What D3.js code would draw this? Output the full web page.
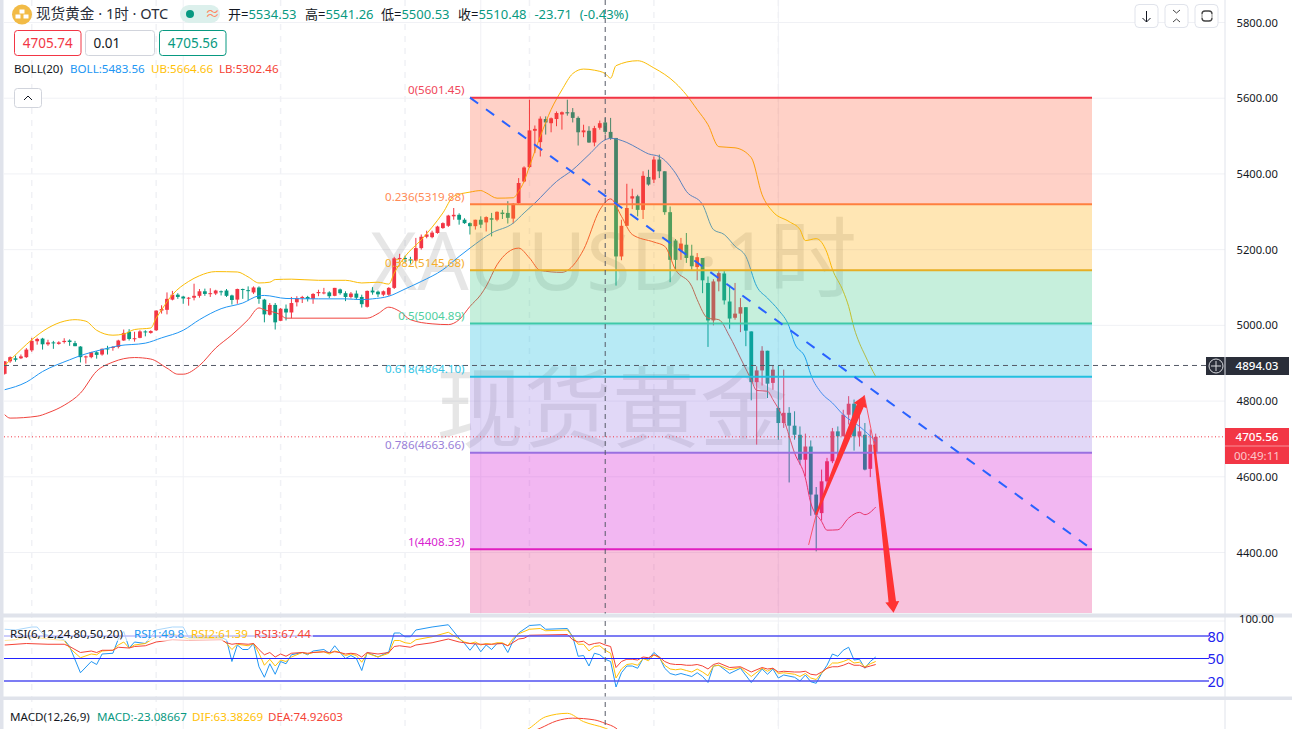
<!DOCTYPE html>
<html><head><meta charset="utf-8">
<script src="https://cdn.jsdelivr.net/npm/d3@7/dist/d3.min.js"></script>
<style>
html,body{margin:0;padding:0;background:#fff;overflow:hidden}
svg{display:block}
text{font-family:"Noto Sans","Noto Sans CJK SC",sans-serif}
</style></head><body><div id="c"></div>
<script>
const open=[4872,4905,4913,4913,4916,4934,4958,4965,4950,4955,
4951,4956,4960,4953,4944,4917,4916,4929,4923,4939,
4942,4943,4960,4983,4964,4967,4984,4980,4987,5039,
5041,5068,5081,5076,5071,5073,5078,5090,5083,5084,
5090,5092,5079,5068,5096,5093,5087,5100,5068,5028,
5054,5012,5044,5034,5061,5072,5075,5070,5085,5085,
5087,5078,5095,5085,5075,5084,5075,5049,5092,5089,
5081,5081,5099,5175,5178,5174,5171,5204,5234,5233,
5244,5257,5263,5288,5292,5279,5270,5262,5279,5272,
5283,5279,5298,5297,5282,5323,5380,5418,5514,5484,
5545,5534,5545,5557,5563,5563,5548,5510,5514,5483,
5522,5536,5511,5495,5182,5263,5335,5341,5305,5392,
5385,5438,5407,5299,5224,5196,5213,5184,5154,5178,
5112,5013,5116,5137,5063,5020,5031,5048,4984,4850,
4881,4933,4848,4782,4742,4769,4735,4711,4645,4680,
4553,4504,4588,4641,4720,4707,4764,4793,4707,4711,4621,4665];
const high=[4905,4918,4920,4923,4940,4967,4967,4967,4962,4959,
4958,4966,4963,4959,4945,4920,4930,4932,4939,4946,
4945,4962,4989,4990,4983,4987,4987,4987,5040,5053,
5087,5091,5085,5078,5075,5110,5096,5097,5098,5094,
5092,5096,5081,5097,5097,5103,5103,5103,5070,5059,
5059,5046,5055,5075,5077,5078,5078,5085,5094,5099,
5090,5099,5097,5090,5088,5092,5081,5092,5101,5092,
5092,5101,5181,5189,5184,5181,5231,5240,5250,5250,
5263,5272,5292,5310,5296,5283,5272,5279,5288,5288,
5297,5301,5305,5328,5323,5389,5420,5596,5528,5552,
5552,5549,5565,5565,5596,5574,5552,5530,5526,5527,
5541,5548,5548,5495,5279,5374,5361,5345,5407,5411,
5446,5451,5407,5314,5228,5231,5244,5213,5191,5178,
5129,5122,5143,5143,5107,5112,5072,5048,4984,4892,
4945,4933,4893,4893,4883,4784,4773,4733,4714,4696,
4573,4619,4650,4729,4733,4777,4813,4804,4804,4742,4725,4714];
const low=[4870,4901,4904,4911,4914,4930,4949,4936,4946,4938,
4949,4952,4946,4945,4902,4899,4913,4912,4920,4923,
4933,4939,4959,4960,4957,4966,4971,4978,4985,5031,
5029,5066,5070,5057,5052,5066,5073,5078,5075,5080,
5079,5075,5055,5057,5070,5066,5083,5057,5008,5026,
4989,5011,5013,5019,5050,5059,5063,5057,5077,5082,
5072,5077,5081,5064,5071,5068,5047,5047,5081,5075,
5077,5078,5096,5166,5165,5163,5169,5200,5230,5230,
5242,5255,5260,5279,5266,5268,5240,5253,5257,5248,
5235,5275,5281,5269,5269,5321,5378,5416,5455,5446,
5504,5510,5526,5517,5554,5536,5475,5497,5482,5473,
5517,5504,5490,5105,5172,5263,5307,5288,5281,5369,
5376,5389,5292,5114,5147,5173,5165,5147,5119,5085,
4943,5000,5090,5055,4991,5015,4982,4945,4802,4685,
4841,4808,4830,4698,4729,4585,4698,4632,4601,4497,
4403,4485,4575,4636,4654,4707,4738,4669,4680,4617,4599,4645];
const close=[4905,4916,4909,4918,4936,4959,4964,4950,4955,4953,
4955,4959,4956,4945,4916,4918,4929,4922,4938,4938,
4943,4960,4980,4964,4966,4984,4982,4985,5039,5043,
5070,5081,5075,5071,5073,5078,5090,5083,5085,5092,
5089,5078,5067,5096,5094,5092,5100,5070,5029,5054,
5008,5044,5034,5059,5072,5075,5070,5083,5088,5087,
5077,5099,5085,5075,5084,5073,5056,5091,5087,5082,
5090,5099,5177,5178,5175,5172,5204,5234,5240,5245,
5261,5270,5290,5292,5279,5270,5262,5279,5266,5286,
5279,5300,5294,5284,5321,5376,5417,5515,5519,5546,
5536,5547,5561,5563,5560,5548,5510,5515,5483,5521,
5534,5511,5495,5182,5263,5310,5341,5305,5395,5372,
5438,5407,5299,5173,5173,5216,5178,5156,5180,5119,
5013,5116,5138,5066,5018,5031,5048,4986,4850,4881,
4933,4846,4883,4742,4769,4735,4711,4645,4680,4553,
4500,4588,4641,4720,4707,4764,4793,4707,4720,4619,4685,4705.56];

const bollUpper=[[0,4894],[3,4936],[5,4962],[8,4993],[11,5011],[13,5015],[15,5011],[17,4987],[20,4974],[22,4977],[24,4989],[27,4993],[28,5019],[29,5041],[31,5081],[34,5116],[36,5131],[39,5142],[43,5141],[45,5128],[47,5112],[49,5114],[50,5121],[53,5122],[58,5119],[63,5119],[66,5112],[69,5114],[71,5109],[72,5138],[74,5182],[77,5226],[81,5297],[83,5341],[86,5352],[88,5356],[89,5350],[91,5336],[94,5337],[95,5354],[96,5380],[97,5420],[99,5499],[101,5570],[103,5622],[105,5665],[107,5677],[109,5674],[111,5665],[112,5653],[113,5686],[117,5699],[120,5680],[124,5640],[126,5609],[128,5570],[130,5530],[132,5472],[135,5469],[138,5443],[140,5345],[142,5300],[145,5274],[147,5253],[148,5224],[150,5229],[152,5192],[153,5148],[155,5090],[156,5050],[157,4993],[158,4953],[159,4922],[160,4892],[161,4865]];
const bollMid=[[0,4830],[4,4850],[7,4878],[12,4909],[14,4920],[18,4936],[21,4946],[26,4953],[29,4967],[33,4987],[36,5015],[40,5044],[44,5059],[47,5078],[48,5079],[52,5071],[58,5070],[63,5070],[66,5068],[68,5070],[71,5077],[74,5096],[77,5116],[81,5147],[84,5182],[86,5204],[90,5244],[94,5270],[96,5297],[98,5323],[102,5380],[105,5411],[108,5451],[111,5490],[112,5494],[115,5483],[117,5468],[119,5453],[121,5446],[124,5402],[126,5354],[129,5319],[131,5253],[133,5240],[135,5209],[137,5182],[139,5103],[141,5072],[143,5041],[145,4997],[146,4953],[148,4914],[149,4870],[151,4821],[153,4795],[155,4764],[158,4733],[161,4694]];
const bollLower=[[0,4764],[1,4755],[6,4760],[8,4769],[11,4789],[14,4821],[17,4879],[20,4903],[24,4915],[27,4911],[30,4887],[32,4871],[33,4871],[36,4894],[39,4940],[42,4975],[45,5015],[47,5046],[48,5041],[51,5028],[52,5019],[67,5019],[69,5031],[71,5048],[73,5037],[75,5015],[79,5004],[82,5002],[84,5015],[86,5050],[88,5081],[89,5103],[91,5160],[95,5204],[97,5178],[99,5145],[103,5140],[104,5145],[107,5200],[110,5305],[112,5334],[114,5288],[116,5240],[120,5220],[122,5209],[124,5147],[127,5103],[128,5068],[130,5019],[132,5015],[134,4971],[136,4914],[138,4856],[139,4828],[141,4826],[142,4804],[144,4751],[146,4663],[148,4597],[149,4531],[151,4482],[152,4459],[154,4460],[156,4491],[158,4506],[159,4500],[161,4520]];

const rsi1=[[0,89],[2,88],[5,92],[6,92],[7,83],[11,75],[12,66],[14,31],[16,46],[17,42],[18,56],[20,57],[21,76],[22,86],[23,64],[24,72],[26,70],[28,88],[31,92],[33,92],[34,78],[40,78],[41,75],[42,46],[43,68],[44,62],[45,62],[46,70],[47,39],[48,25],[49,43],[50,29],[51,46],[52,43],[53,55],[55,58],[56,55],[57,60],[59,62],[60,57],[61,67],[62,58],[63,50],[64,54],[65,50],[66,34],[67,58],[69,52],[71,59],[72,84],[73,84],[74,79],[75,79],[76,88],[79,92],[82,95],[84,77],[85,70],[86,61],[87,70],[88,59],[89,68],[90,62],[91,70],[92,70],[93,58],[94,74],[95,84],[97,94],[99,95],[100,89],[104,90],[105,79],[106,53],[107,54],[108,40],[109,57],[110,55],[111,49],[112,46],[113,12],[114,31],[115,40],[116,40],[117,37],[118,50],[119,49],[120,58],[121,52],[122,37],[123,30],[124,28],[125,30],[126,28],[127,26],[128,31],[129,26],[130,18],[131,40],[132,41],[134,30],[136,37],[138,18],[140,36],[141,29],[142,36],[143,24],[144,28],[146,25],[147,20],[148,28],[149,19],[150,17],[151,30],[152,41],[153,56],[154,53],[155,61],[156,65],[157,48],[158,49],[159,37],[160,46],[161,52]];
const rsi2=[[0,74],[2,75],[4,79],[6,78],[8,76],[11,74],[12,64],[14,51],[16,56],[17,55],[18,60],[20,61],[21,68],[22,72],[23,64],[24,68],[26,70],[28,79],[31,83],[34,76],[40,77],[41,70],[42,62],[43,69],[45,67],[46,70],[47,57],[48,41],[49,49],[50,40],[51,48],[52,46],[53,52],[55,58],[56,56],[57,58],[59,59],[60,56],[61,60],[62,58],[63,54],[64,56],[65,54],[66,45],[67,57],[69,52],[71,57],[72,74],[73,74],[74,71],[75,70],[76,75],[79,79],[82,85],[84,76],[85,72],[86,70],[87,72],[88,68],[89,70],[90,69],[91,71],[92,71],[93,67],[94,77],[95,83],[97,89],[99,90],[100,87],[104,88],[105,79],[106,69],[107,69],[108,60],[109,66],[110,67],[111,61],[112,57],[113,24],[114,36],[115,42],[116,43],[117,41],[118,50],[119,47],[120,55],[121,51],[122,41],[123,36],[124,35],[125,36],[126,34],[127,32],[128,36],[129,32],[130,27],[131,40],[132,41],[134,35],[136,38],[138,26],[140,37],[141,33],[142,37],[143,30],[144,31],[146,29],[147,26],[148,30],[149,24],[150,22],[151,31],[152,37],[153,44],[154,44],[155,46],[156,49],[157,44],[158,45],[159,39],[160,43],[161,46]];
const rsi3=[[0,68],[4,70],[8,69],[11,69],[12,66],[14,58],[16,60],[17,58],[18,61],[20,61],[21,65],[23,64],[24,66],[26,67],[28,72],[31,75],[34,74],[40,75],[41,71],[42,69],[43,70],[45,69],[46,70],[47,62],[48,55],[49,58],[50,52],[51,56],[52,53],[53,57],[55,58],[56,57],[57,58],[59,59],[60,58],[61,59],[62,58],[63,56],[64,57],[65,56],[66,52],[67,58],[69,56],[71,58],[72,66],[73,67],[74,66],[75,65],[76,68],[79,71],[82,76],[84,72],[86,70],[88,69],[90,69],[92,70],[93,67],[95,76],[96,77],[97,81],[104,82],[105,75],[106,72],[107,73],[108,68],[109,70],[110,71],[111,68],[112,66],[113,38],[114,46],[115,49],[116,49],[117,48],[118,52],[119,51],[120,55],[121,52],[122,46],[123,43],[124,42],[125,42],[126,41],[127,41],[128,42],[129,40],[130,36],[131,42],[132,44],[134,38],[136,39],[138,32],[140,38],[141,36],[142,37],[143,32],[144,33],[146,32],[147,32],[148,33],[149,29],[150,28],[151,32],[152,37],[153,39],[154,39],[155,41],[156,44],[157,41],[158,41],[159,38],[160,40],[161,42]];
const macdDif=[[95,40],[97,59],[100,92],[104,102],[107,78],[111,59],[113,45]];
const macdDea=[[96,40],[99,59],[102,80],[105,88],[109,83],[111,73],[113,59],[114,45]];

const priceTicks=[5800,5600,5400,5200,5000,4800,4600,4400];
const rsiLevels=[80,50,20];
const fibRatios=["0","0.236","0.382","0.5","0.618","0.786","1"];
const fibPrices=[5601.45,5319.88,5145.68,5004.89,4864.10,4663.66,4408.33];
const fibLine=["#f23645","#ff7f3f","#e6ae25","#3fc9a8","#22c0e0","#9a70e0","#e020c0"];
const fibText=["#f0475a","#ff8a55","#f5ad2a","#4fcfa0","#35c5e5","#9a7fd8","#d81fd0"];
const fibFill=["rgba(255,70,30,.25)","rgba(255,172,8,.3)","rgba(65,202,138,.3)","rgba(15,185,222,.3)","rgba(155,125,228,.3)","rgba(212,18,212,.3)","rgba(232,52,138,.3)"];
const dashedGridIdx=[5,28,51,74,97,120,143];
const solidGridIdx=[33,88,143];
const upArrow=[[150.0,4500],[158.9,4815]];
const downArrow=[[160.7,4685],[164.3,4241]];
const thinDraw=[[148.6,4420],[150.0,4500],[158.9,4815],[160.7,4685]];
const crossPrice=4894.03, crossIdx=111, lastPrice=4705.56;

const W=1292,H=729,axisX=1225;
const svg=d3.select("#c").append("svg").attr("width",W).attr("height",H);
const x=d3.scaleLinear().domain([0,161]).range([4.7,875.7]);
const y=d3.scaleLinear().domain([4400,5800]).range([552.5,22.5]);
const yR=d3.scaleLinear().domain([0,100]).range([696,621]);
const yM=d3.scaleLinear().domain([63.38,74.93]).range([726.7,722.7]);
const UP="#f23645",DN="#089981";

const defs=svg.append("defs");
const clip=(id,a,b,w)=>defs.append("clipPath").attr("id",id).append("rect").attr("x",4).attr("y",a).attr("width",w||axisX-4).attr("height",b-a);
clip("cm",0,613);clip("cr",618,696);clip("cc",700,729);

// grid
const grid=svg.append("g").attr("stroke","#f0f1f5").attr("stroke-width",1);
priceTicks.forEach(p=>grid.append("line").attr("x1",4).attr("x2",axisX).attr("y1",y(p)).attr("y2",y(p)));
grid.append("line").attr("x1",4).attr("x2",axisX).attr("y1",yR(100)).attr("y2",yR(100));
dashedGridIdx.forEach(i=>grid.append("line").attr("x1",x(i)).attr("x2",x(i)).attr("y1",0).attr("y2",H).attr("stroke-dasharray","6 6").attr("stroke-width",1.5));
solidGridIdx.forEach(i=>grid.append("line").attr("x1",x(i)).attr("x2",x(i)).attr("y1",0).attr("y2",H));

// watermark
const wm=svg.append("text").attr("y",290).attr("fill","rgba(90,90,90,.15)");
wm.append("tspan").attr("x",370).attr("font-size",80.5).text("XAUUSD");
wm.append("tspan").attr("x",697).attr("font-size",80.5).text("·");
wm.append("tspan").attr("x",723).attr("font-size",80.5).text("1");
wm.append("tspan").attr("x",769).attr("font-size",88).text("时");
svg.append("text").attr("x",612).attr("y",440).attr("text-anchor","middle").attr("font-size",88).attr("fill","rgba(90,90,90,.15)").text("现货黄金");

// candles
const main=svg.append("g").attr("clip-path","url(#cm)");
const candles=d3.range(open.length).map(i=>({i,o:open[i],h:high[i],l:low[i],c:close[i]}));
const cg=main.append("g");
cg.selectAll("line").data(candles).join("line")
 .attr("x1",d=>x(d.i)).attr("x2",d=>x(d.i)).attr("y1",d=>y(d.h)).attr("y2",d=>y(d.l))
 .attr("stroke",d=>d.c>=d.o?UP:DN).attr("stroke-width",1);
cg.selectAll("rect").data(candles).join("rect")
 .attr("x",d=>x(d.i)-1.9).attr("width",3.8)
 .attr("y",d=>y(Math.max(d.o,d.c))).attr("height",d=>Math.max(1,Math.abs(y(d.o)-y(d.c))))
 .attr("fill",d=>d.c>=d.o?UP:DN);

// bollinger
const lm=d3.line().x(d=>x(d[0])).y(d=>y(d[1])).curve(d3.curveMonotoneX);
[[bollUpper,"#fbbc05"],[bollMid,"#2196f3"],[bollLower,"#f0443e"]].forEach(([s,c])=>
 main.append("path").attr("d",lm(s)).attr("fill","none").attr("stroke",c).attr("stroke-width",1));

// fibonacci
const fx0=470,fx1=1092,fBottom=613;
fibPrices.forEach((p,k)=>{
 const top=y(p),bot=k<fibPrices.length-1?y(fibPrices[k+1]):fBottom;
 main.append("rect").attr("x",fx0).attr("width",fx1-fx0).attr("y",top).attr("height",bot-top).attr("fill",fibFill[k]);
});
fibPrices.forEach((p,k)=>{
 main.append("line").attr("x1",fx0).attr("x2",fx1).attr("y1",y(p)).attr("y2",y(p)).attr("stroke",fibLine[k]).attr("stroke-width",2);
 svg.append("text").attr("x",464.5).attr("y",y(p)-3.5).attr("text-anchor","end").attr("font-size",11.6).attr("fill",fibText[k]).text(`${fibRatios[k]}(${p.toFixed(2)})`);
});
svg.append("line").attr("x1",fx0).attr("y1",y(fibPrices[0])).attr("x2",fx1).attr("y2",y(fibPrices[6]))
 .attr("stroke","#2962ff").attr("stroke-width",2).attr("stroke-dasharray","10 9.8");

// hand drawn arrows
function arrow(a,b,w0,w1,hw,hl){
 const p0=[x(a[0]),y(a[1])],p1=[x(b[0]),y(b[1])];
 const dx=p1[0]-p0[0],dy=p1[1]-p0[1],L=Math.hypot(dx,dy),ux=dx/L,uy=dy/L,nx=-uy,ny=ux;
 const bx=p1[0]-ux*hl,by=p1[1]-uy*hl;
 return [[p0[0]+nx*w0/2,p0[1]+ny*w0/2],[bx+nx*w1/2,by+ny*w1/2],[bx+nx*hw/2,by+ny*hw/2],p1,
  [bx-nx*hw/2,by-ny*hw/2],[bx-nx*w1/2,by-ny*w1/2],[p0[0]-nx*w0/2,p0[1]-ny*w0/2]].map(q=>q.join(",")).join(" ");
}
svg.append("path").attr("d",d3.line().x(d=>x(d[0])).y(d=>y(d[1]))(thinDraw)).attr("fill","none").attr("stroke","#f8566a").attr("stroke-width",1);
svg.append("polygon").attr("points",arrow(upArrow[0],upArrow[1],2,7.5,14,11)).attr("fill","#ff3333");
svg.append("polygon").attr("points",arrow(downArrow[0],downArrow[1],2,7.5,14,11)).attr("fill","#ff3333");

// RSI
const rsi=svg.append("g").attr("clip-path","url(#cr)");
rsiLevels.forEach(v=>{
 svg.append("line").attr("x1",4).attr("x2",1209).attr("y1",yR(v)).attr("y2",yR(v)).attr("stroke",v===50?"#2222ff":"#5050f0").attr("stroke-width",v===50?1:1.6);
 svg.append("text").attr("x",1224).attr("y",yR(v)+5.5).attr("text-anchor","end").attr("font-size",14.5).attr("fill","#2222ee").text(v);
});
const lr=d3.line().x(d=>x(d[0])).y(d=>yR(d[1]));
[[rsi1,"#2196f3"],[rsi2,"#ffc107"],[rsi3,"#f44336"]].forEach(([s,c])=>
 rsi.append("path").attr("d",lr(s)).attr("fill","none").attr("stroke",c).attr("stroke-width",1));
svg.append("rect").attr("x",4).attr("y",626).attr("width",309).attr("height",15).attr("fill","rgba(255,255,255,.62)");
// MACD
const macd=svg.append("g").attr("clip-path","url(#cc)");
const lc=d3.line().x(d=>x(d[0])).y(d=>yM(d[1])).curve(d3.curveMonotoneX);
[[macdDif,"#ffc107"],[macdDea,"#f44336"]].forEach(([s,c])=>
 macd.append("path").attr("d",lc(s)).attr("fill","none").attr("stroke",c).attr("stroke-width",1));

// crosshair + last price
svg.append("line").attr("x1",4).attr("x2",axisX).attr("y1",y(lastPrice)).attr("y2",y(lastPrice)).attr("stroke",UP).attr("stroke-dasharray","1 2.5");
svg.append("line").attr("x1",4).attr("x2",1206).attr("y1",y(crossPrice)).attr("y2",y(crossPrice)).attr("stroke","#555a66").attr("stroke-dasharray","5 4");
svg.append("line").attr("x1",x(crossIdx)).attr("x2",x(crossIdx)).attr("y1",0).attr("y2",H).attr("stroke","#555a66").attr("stroke-dasharray","5 4");

// dividers
const divC="#e0e3eb";
svg.append("rect").attr("x",0).attr("y",0).attr("width",3.5).attr("height",H).attr("fill",divC);
svg.append("rect").attr("x",0).attr("y",613.5).attr("width",W).attr("height",4).attr("fill",divC);
svg.append("rect").attr("x",0).attr("y",696.5).attr("width",W).attr("height",3.5).attr("fill",divC);
svg.append("line").attr("x1",axisX).attr("x2",axisX).attr("y1",0).attr("y2",H).attr("stroke",divC).attr("stroke-width",1);

// axes
const ax=svg.append("g").attr("transform",`translate(1229,0)`).call(d3.axisRight(y).tickValues(priceTicks).tickFormat(d3.format(".2f")).tickSize(0).tickPadding(7.5));
ax.select(".domain").remove();
ax.selectAll("text").attr("font-size",11.2).attr("fill","#131722").style("font-family",'"Noto Sans"');
const ax2=svg.append("g").attr("transform",`translate(1229,0)`).call(d3.axisRight(yR).tickValues([100]).tickFormat(d3.format(".2f")).tickSize(0).tickPadding(10));
ax2.select(".domain").remove();
ax2.selectAll("text").attr("font-size",11.2).attr("fill","#131722").attr("dy","0.1em").style("font-family",'"Noto Sans"');

// price tags
svg.append("rect").attr("x",1206).attr("y",357).attr("width",83).attr("height",18).attr("fill","#2a2e39");
svg.append("circle").attr("cx",1216).attr("cy",366).attr("r",7).attr("fill","none").attr("stroke","#d8d9de");
svg.append("path").attr("d","M1216 361V371M1211 366H1221").attr("stroke","#d8d9de");
svg.append("line").attr("x1",axisX).attr("x2",axisX).attr("y1",357).attr("y2",375).attr("stroke","#e0e3eb");
svg.append("text").attr("x",1257).attr("y",370.3).attr("text-anchor","middle").attr("font-size",11.6).attr("font-weight",500).attr("fill","#fff").text(crossPrice.toFixed(2));
svg.append("rect").attr("x",1225).attr("y",428).attr("width",64).attr("height",36).attr("fill",UP);
svg.append("line").attr("x1",1225).attr("x2",1289).attr("y1",446).attr("y2",446).attr("stroke","#fa8f98");
svg.append("text").attr("x",1257).attr("y",441).attr("text-anchor","middle").attr("font-size",11.6).attr("font-weight",500).attr("fill","#fff").text(lastPrice.toFixed(2));
svg.append("text").attr("x",1257).attr("y",459.5).attr("text-anchor","middle").attr("font-size",11.6).attr("fill","#fcc6cb").text("00:49:11");

// header
const T=(xx,yy,s,fs,c,anchor)=>svg.append("text").attr("x",xx).attr("y",yy).attr("font-size",fs).attr("fill",c).attr("text-anchor",anchor||"start").text(s);
svg.append("circle").attr("cx",22).attr("cy",14.5).attr("r",10).attr("fill","#f2bb46");
svg.append("path").attr("d","M19.5 9.5h5v4h-5zM15.5 14.5h5v4h-5zM23.5 14.5h5v4h-5z").attr("fill","#fff");
T(36,19.3,"现货黄金 · 1时 · OTC",14.6,"#2a2e39");
svg.append("rect").attr("x",180).attr("y",5).attr("width",40).attr("height",18).attr("rx",9).attr("fill","#dcf0ec");
svg.append("circle").attr("cx",190).attr("cy",14).attr("r",4).attr("fill",DN);
T(205,19,"≈",15,"#ff8a65");
const O1=[[228,"开=","5534.53"],[305,"高=","5541.26"],[381,"低=","5500.53"],[458,"收=","5510.48 -23.71 (-0.43%)"]];
O1.forEach(([xx,a,b])=>{const t=svg.append("text").attr("x",xx).attr("y",19).attr("font-size",13).attr("word-spacing",4.5);
 t.append("tspan").attr("fill","#131722").text(a);t.append("tspan").attr("fill",DN).text(b);});
const box=(xx,w,c,s,col,a)=>{svg.append("rect").attr("x",xx).attr("y",30.5).attr("width",w).attr("height",25).attr("rx",3).attr("fill","#fff").attr("stroke",c);
 T(a==="start"?xx+8:xx+w/2,47.5,s,13.5,col,a||"middle");};
box(14.5,66.5,UP,"4705.74",UP);
box(85.5,69,"#d1d4dc","0.01","#131722","start");
box(159.5,66.5,DN,"4705.56",DN);
T(14,73,"BOLL(20)",11.6,"#131722");
T(70,73,"BOLL:5483.56",11.6,"#2196f3");
T(151,73,"UB:5664.66",11.6,"#ffc107");
T(219,73,"LB:5302.46",11.6,"#f44336");
svg.append("rect").attr("x",14.5).attr("y",88.5).attr("width",27).attr("height",19).attr("rx",3).attr("fill","#fff").attr("stroke","#d1d4dc");
svg.append("path").attr("d","M24 100L28 96L32 100").attr("fill","none").attr("stroke","#131722");
[1135,1165,1195].forEach(xx=>svg.append("rect").attr("x",xx).attr("y",4.5).attr("width",23).attr("height",23).attr("rx",4).attr("fill","#fff").attr("stroke","#e0e3eb"));
svg.append("path").attr("d","M1146.5 11V22M1142.5 18L1146.5 22L1150.5 18").attr("fill","none").attr("stroke","#131722");
svg.append("path").attr("d","M1173 10L1176.5 13L1180 10M1173 22L1176.5 19L1180 22").attr("fill","none").attr("stroke","#444");
svg.append("path").attr("d","M1202 14Q1202 11 1205 11H1209Q1212 11 1212 14M1202 18Q1202 21 1205 21H1209Q1212 21 1212 18").attr("fill","none").attr("stroke","#444").attr("stroke-width",1.3);
svg.append("path").attr("d","M1202 14V18M1212 14V18").attr("fill","none").attr("stroke","#888").attr("stroke-width",1);

// pane legends
T(10,638,"RSI(6,12,24,80,50,20)",11.6,"#131722");
T(134,638,"RSI1:49.8",11.6,"#2196f3");
T(191,638,"RSI2:61.39",11.6,"#ffc107");
T(254,638,"RSI3:67.44",11.6,"#f44336");
T(10,721,"MACD(12,26,9)",11.6,"#131722");
T(97,721,"MACD:-23.08667",11.6,DN);
T(192,721,"DIF:63.38269",11.6,"#ffc107");
T(268,721,"DEA:74.92603",11.6,"#f44336");
</script></body></html>
